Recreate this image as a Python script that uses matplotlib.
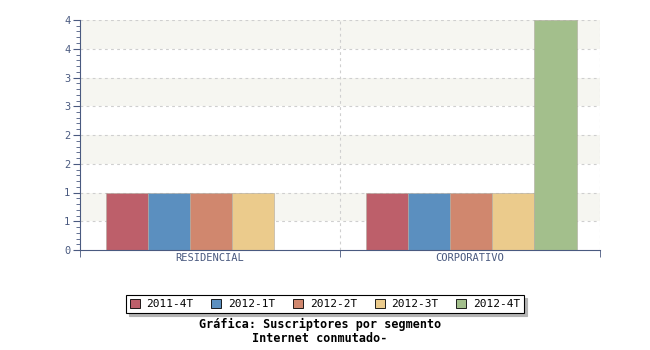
import numpy as np
import matplotlib.pyplot as plt
from matplotlib.ticker import FuncFormatter, MultipleLocator

# Datos
segmentos = ["RESIDENCIAL", "CORPORATIVO"]
periodos = ["2011-4T", "2012-1T", "2012-2T", "2012-3T", "2012-4T"]
v_2011_4t = [1, 1]
v_2012_1t = [1, 1]
v_2012_2t = [1, 1]
v_2012_3t = [1, 1]
v_2012_4t = [np.nan, 4]
valores = [v_2011_4t, v_2012_1t, v_2012_2t, v_2012_3t, v_2012_4t]
colores = ["#bd5f6a", "#5b8fbf", "#d0876e", "#ebcb8c", "#a3bf8c"]

eje_color = "#4a5a80"
fuente = "DejaVu Sans Mono"

fig = plt.figure(figsize=(6.5, 3.5), dpi=100)
ax = fig.add_axes([80 / 650, 100 / 350, 520 / 650, 230 / 350])

ymax = 4
# bandas alternas
for y0 in np.arange(0.5, ymax, 1.0):
    ax.axhspan(y0, y0 + 0.5, color="#f6f6f1", zorder=0, lw=0)
for y in np.arange(0.5, ymax + 0.01, 0.5):
    ax.axhline(y, color="#cfcfcf", ls=(0, (2.5, 3)), lw=0.8, zorder=1)
for x in [1, 2]:
    ax.axvline(x, color="#cfcfcf", ls=(0, (2.5, 3)), lw=0.8, zorder=1)

ancho = 0.162
x = np.arange(len(segmentos))
for j, (per, vals, col) in enumerate(zip(periodos, valores, colores)):
    ax.bar(x + 0.1 + j * ancho, vals, width=ancho, align="edge", color=col,
           edgecolor="#b0aaa0", linewidth=0.4, label=per, zorder=3)

ax.set_xlim(0, 2)
ax.set_ylim(0, ymax)
ax.set_xticks([0.5, 1.5])
ax.set_xticklabels(segmentos)
ax.set_xticks([0, 1, 2], minor=True)
ax.tick_params(axis="x", which="major", length=0, pad=2)
ax.tick_params(axis="x", which="minor", length=5, direction="out", color=eje_color)
ax.yaxis.set_major_locator(MultipleLocator(0.5))
ax.yaxis.set_minor_locator(MultipleLocator(0.1))
ax.yaxis.set_major_formatter(FuncFormatter(lambda v, p: str(int(v + 0.5))))
ax.tick_params(axis="y", which="major", length=5, color=eje_color, pad=2)
ax.tick_params(axis="y", which="minor", length=3, color=eje_color)
for lab in ax.get_xticklabels() + ax.get_yticklabels():
    lab.set_fontfamily(fuente)
    lab.set_fontsize(7.5)
    lab.set_color(eje_color)

ax.spines["top"].set_visible(False)
ax.spines["right"].set_visible(False)
ax.spines["left"].set_color(eje_color)
ax.spines["bottom"].set_color(eje_color)
ax.spines["bottom"].set_zorder(5)

ley = fig.legend(loc="center", bbox_to_anchor=(325 / 650, 1 - 304 / 350), ncol=5,
                 prop={"family": fuente, "size": 8}, frameon=True, fancybox=False,
                 shadow={"color": "#b4b4b4", "alpha": 1, "ox": 2, "oy": -2},
                 edgecolor="black", handlelength=0.9, handleheight=0.9,
                 columnspacing=1.6, handletextpad=0.6, borderpad=0.35)
ley.get_frame().set_linewidth(0.8)
for h in ley.legend_handles:
    h.set_edgecolor("black")
    h.set_linewidth(0.6)

fig.text(320 / 650, 1 - 324 / 350, "Gráfica: Suscriptores por segmento",
         ha="center", va="center", family=fuente, fontsize=8.5, fontweight="bold")
fig.text(320 / 650, 1 - 338 / 350, "Internet conmutado-",
         ha="center", va="center", family=fuente, fontsize=8.5, fontweight="bold")

plt.savefig("out.png", dpi=100)
plt.close()
